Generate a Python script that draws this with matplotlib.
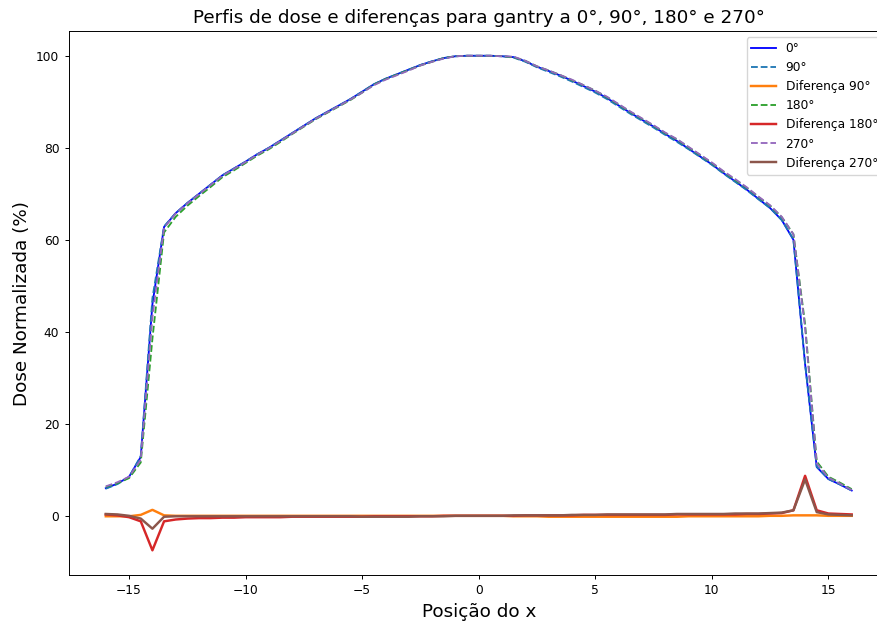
import matplotlib.pyplot as plt
import numpy as np

# posicoes (cm)
x = [-16, -15.5, -15, -14.5, -14, -13.5, -13, -12.5, -12, -11.5, -11, -10.5,
     -10, -9.5, -9, -8.5, -8, -7.5, -7, -6.5, -6, -5.5, -5, -4.5, -4, -3.5,
     -3, -2.5, -2, -1.5, -1, -0.5, 0, 0.5, 1, 1.5, 2, 2.5, 3, 3.5, 4, 4.5,
     5, 5.5, 6, 6.5, 7, 7.5, 8, 8.5, 9, 9.5, 10, 10.5, 11, 11.5, 12, 12.5,
     13, 13.5, 14, 14.5, 15, 15.5, 16]

# perfil gantry 0
dose_0 = [6.0, 7.0, 8.5, 12.8, 46.0, 62.8, 65.8, 68.0, 70.0, 72.0, 74.0, 75.5,
          77.0, 78.6, 80.0, 81.6, 83.2, 84.8, 86.4, 87.8, 89.2, 90.6, 92.2, 93.8,
          95.0, 96.0, 97.0, 98.0, 98.8, 99.5, 99.9, 100.0, 100.0, 100.0, 99.9, 99.7,
          98.8, 97.6, 96.7, 95.7, 94.6, 93.4, 92.2, 90.8, 89.2, 87.6, 86.1, 84.6,
          83.0, 81.5, 79.8, 78.1, 76.4, 74.5, 72.7, 70.9, 68.9, 66.9, 64.3, 60.0,
          33.0, 10.6, 8.0, 6.8, 5.5]

# diferencas em relacao ao gantry 0
dif_90 = [-0.1, -0.1, -0.1, 0.2, 1.3, 0.1, 0.0, 0.0, 0.0, 0.0, 0.0, 0.0,
          0.0, 0.0, 0.0, 0.0, 0.0, 0.0, 0.0, 0.0, 0.0, 0.0, 0.0, 0.0,
          0.0, 0.0, 0.0, 0.0, 0.0, 0.0, 0.0, 0.0, 0.0, 0.0, 0.0, -0.1,
          -0.1, -0.1, -0.2, -0.2, -0.2, -0.2, -0.2, -0.2, -0.2, -0.2, -0.2, -0.2,
          -0.2, -0.2, -0.1, -0.1, -0.1, -0.1, -0.1, -0.1, -0.1, 0.0, 0.0, 0.1,
          0.1, 0.1, 0.0, 0.0, 0.0]
dif_180 = [0.3, 0.1, -0.3, -1.2, -7.5, -1.2, -0.8, -0.6, -0.5, -0.5, -0.4, -0.4,
           -0.3, -0.3, -0.3, -0.3, -0.2, -0.2, -0.2, -0.2, -0.2, -0.2, -0.2, -0.1,
           -0.1, -0.1, -0.1, -0.1, -0.1, 0.0, 0.0, 0.0, 0.0, 0.0, 0.0, 0.0,
           0.1, 0.1, 0.1, 0.1, 0.1, 0.2, 0.2, 0.2, 0.2, 0.2, 0.2, 0.2,
           0.2, 0.3, 0.3, 0.3, 0.3, 0.3, 0.3, 0.4, 0.4, 0.5, 0.6, 1.2,
           8.7, 1.2, 0.5, 0.4, 0.3]
dif_270 = [0.4, 0.3, 0.0, -0.6, -2.8, -0.2, -0.1, -0.1, -0.1, -0.1, -0.1, -0.1,
           -0.1, -0.1, -0.1, -0.1, -0.1, -0.1, -0.1, -0.1, -0.1, -0.1, -0.2, -0.2,
           -0.2, -0.2, -0.2, -0.1, -0.1, -0.1, 0.0, 0.0, 0.0, 0.0, 0.0, 0.1,
           0.1, 0.1, 0.1, 0.1, 0.2, 0.2, 0.2, 0.3, 0.3, 0.3, 0.3, 0.3,
           0.3, 0.4, 0.4, 0.4, 0.4, 0.4, 0.5, 0.5, 0.5, 0.6, 0.7, 1.2,
           7.9, 0.8, 0.3, 0.2, 0.1]

x = np.array(x)
dose_0 = np.array(dose_0)
dose_90 = dose_0 + np.array(dif_90)
dose_180 = dose_0 + np.array(dif_180)
dose_270 = dose_0 + np.array(dif_270)

# a referencia parece ser o grafico original reduzido (~0.88)
plt.rcParams['font.size'] = 8.8
plt.rcParams['lines.linewidth'] = 1.32
plt.rcParams['axes.linewidth'] = 0.7
plt.rcParams['xtick.major.size'] = 3.1
plt.rcParams['ytick.major.size'] = 3.1
plt.rcParams['xtick.major.width'] = 0.7
plt.rcParams['ytick.major.width'] = 0.7

fig = plt.figure(figsize=(8.78, 6.21), dpi=100)
# o lado direito do grafico fica cortado, como na referencia
ax = fig.add_axes([68.5/878, 0.074, (889 - 68.5)/878, 0.876])

ax.plot(x, dose_0, color='blue', label='0°')
ax.plot(x, dose_90, '--', label='90°')
ax.plot(x, dif_90, lw=1.76, label='Diferença 90°')
ax.plot(x, dose_180, '--', label='180°')
ax.plot(x, dif_180, lw=1.76, label='Diferença 180°')
ax.plot(x, dose_270, '--', label='270°')
ax.plot(x, dif_270, lw=1.76, label='Diferença 270°')

ax.set_title('Perfis de dose e diferenças para gantry a 0°, 90°, 180° e 270°', fontsize=13.2)
ax.set_xlabel('Posição do x', fontsize=13.2)
ax.set_ylabel('Dose Normalizada (%)', fontsize=13.2)
ax.legend(loc='upper right')

fig.savefig('out.png', dpi=100)
